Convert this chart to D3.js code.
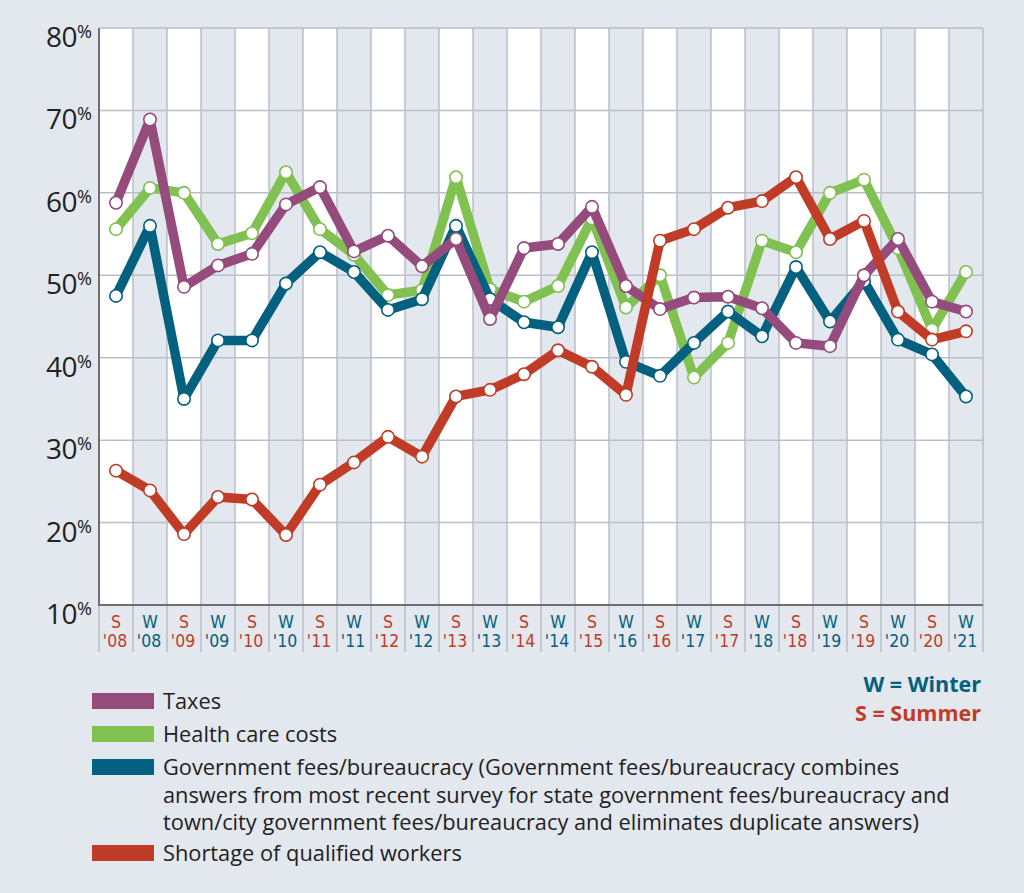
<!DOCTYPE html>
<html><head><meta charset="utf-8">
<script src="https://cdn.jsdelivr.net/npm/d3@7"></script>
<style>
html,body{margin:0;padding:0;background:#e3e7ee;}
svg{display:block;}
</style></head>
<body>
<svg id="chart" width="1024" height="893"></svg>
<script>
const categories = ["S'08","W'08","S'09","W'09","S'10","W'10","S'11","W'11","S'12","W'12","S'13","W'13","S'14","W'14","S'15","W'16","S'16","W'17","S'17","W'18","S'18","W'19","S'19","W'20","S'20","W'21"];
const taxes    = [58.8,68.9,48.6,51.2,52.6,58.6,60.7,52.9,54.8,51.1,54.4,44.7,53.3,53.8,58.3,48.7,45.9,47.3,47.4,46.0,41.8,41.4,50.0,54.4,46.8,45.6];
const health   = [55.6,60.6,60.0,53.8,55.1,62.5,55.6,52.5,47.6,48.2,61.9,48.3,46.8,48.7,56.9,46.1,50.0,37.6,41.8,54.2,52.8,60.0,61.6,53.3,43.4,50.4];
const govFees  = [47.5,56.0,35.0,42.1,42.1,49.0,52.8,50.4,45.8,47.1,56.0,47.1,44.3,43.7,52.8,39.5,37.8,41.8,45.6,42.6,51.0,44.4,49.3,42.2,40.4,35.3];
const shortage = [26.3,23.9,18.6,23.1,22.8,18.5,24.6,27.3,30.4,28.0,35.3,36.1,38.0,40.9,38.9,35.5,54.2,55.6,58.2,59.0,61.9,54.4,56.6,45.6,42.2,43.2];
const yTicks = [10,20,30,40,50,60,70,80];
const legendLabels = [
  ["Taxes"],
  ["Health care costs"],
  ["Government fees/bureaucracy (Government fees/bureaucracy combines",
   "answers from most recent survey for state government fees/bureaucracy and",
   "town/city government fees/bureaucracy and eliminates duplicate answers)"],
  ["Shortage of qualified workers"]
];
const seasonKey = ["W = Winter","S = Summer"];

const C = {purple:"#954b7b", green:"#80c152", blue:"#03607f", red:"#c03c27", grid:"#babfc7", axis:"#6e6e70", bg:"#e3e7ee", text:"#222"};

const svg = d3.select("#chart");
svg.append("rect").attr("width",1024).attr("height",893).attr("fill",C.bg);

const x = d3.scaleBand().domain(categories).range([99,983]).padding(0);
const y = d3.scaleLinear().domain([10,80]).range([605,28]);
const xc = d => x(d) + x.bandwidth()/2;

// bands
svg.append("g").selectAll("rect").data(categories).join("rect")
  .attr("x", d=>x(d)).attr("y", y(80)).attr("width", x.bandwidth()).attr("height", y(10)-y(80))
  .attr("fill", (d,i)=> i%2===0 ? "#ffffff" : C.bg);

// vertical gridlines (extend below axis)
const vx = categories.map(d=>x(d)).concat([x(categories[categories.length-1])+x.bandwidth()]);
svg.append("g").selectAll("line").data(vx).join("line")
  .attr("x1",d=>d).attr("x2",d=>d).attr("y1",y(80)).attr("y2",652)
  .attr("stroke",C.grid).attr("stroke-width",1.5);

// horizontal gridlines
svg.append("g").selectAll("line").data(yTicks).join("line")
  .attr("x1",99).attr("x2",983).attr("y1",d=>y(d)).attr("y2",d=>y(d))
  .attr("stroke",C.grid).attr("stroke-width",1.5);

// axes lines
svg.append("line").attr("x1",99).attr("x2",99).attr("y1",y(80)).attr("y2",y(10)+1).attr("stroke",C.axis).attr("stroke-width",2);
svg.append("line").attr("x1",98).attr("x2",983).attr("y1",y(10)).attr("y2",y(10)).attr("stroke",C.axis).attr("stroke-width",2);

// y labels
const yl = svg.append("g").attr("font-family","'Open Sans', sans-serif").attr("fill",C.text);
yTicks.forEach(v=>{
  const t = yl.append("text").attr("x",92).attr("y",y(v)+19).attr("text-anchor","end");
  t.append("tspan").attr("font-size",28).attr("letter-spacing",-0.5).text(v);
  t.append("tspan").attr("font-size",18).attr("dy",-9).text("%");
});

// x labels
const xl = svg.append("g").attr("font-family","'DejaVu Sans Condensed','Liberation Sans Narrow',sans-serif").attr("text-anchor","middle").attr("font-size",17.5);
categories.forEach(c=>{
  const season = c[0], yr = c.slice(1);
  const col = season==="S" ? C.red : C.blue;
  xl.append("text").attr("x",xc(c)).attr("y",628).attr("fill",col).text(season);
  xl.append("text").attr("x",xc(c)-1).attr("y",647).attr("fill",col).text(yr);
});

// series
const series = [
  {vals:health, color:C.green},
  {vals:govFees, color:C.blue},
  {vals:taxes, color:C.purple},
  {vals:shortage, color:C.red}
];
const line = d3.line().x((d,i)=>xc(categories[i])).y(d=>y(d));
series.forEach(s=>{
  const g = svg.append("g");
  g.append("path").attr("d",line(s.vals)).attr("fill","none").attr("stroke",s.color)
    .attr("stroke-width",9.5).attr("stroke-linejoin","round").attr("stroke-linecap","round");
  g.selectAll("circle").data(s.vals).join("circle")
    .attr("cx",(d,i)=>xc(categories[i])).attr("cy",d=>y(d)).attr("r",6.2)
    .attr("fill","#fff").attr("stroke",s.color).attr("stroke-width",1.6);
});

// legend
const legColors = [C.purple, C.green, C.blue, C.red];
const legRowsY = [701, 734, 767, 853];
const lg = svg.append("g").attr("font-family","'Open Sans', sans-serif").attr("font-size",21.8).attr("fill",C.text);
legendLabels.forEach((lines,i)=>{
  lg.append("rect").attr("x",92).attr("y",legRowsY[i]-8).attr("width",62).attr("height",16).attr("fill",legColors[i]);
  lines.forEach((ln,j)=>{
    lg.append("text").attr("x",163).attr("y",legRowsY[i]+8+j*27.5).text(ln);
  });
});

// season key
svg.append("text").attr("x",981).attr("y",692).attr("text-anchor","end")
  .attr("font-family","'Open Sans', sans-serif").attr("font-weight",700).attr("font-size",21.5).attr("fill",C.blue).text(seasonKey[0]);
svg.append("text").attr("x",981).attr("y",721).attr("text-anchor","end")
  .attr("font-family","'Open Sans', sans-serif").attr("font-weight",700).attr("font-size",21.5).attr("fill",C.red).text(seasonKey[1]);
</script>
</body></html>
